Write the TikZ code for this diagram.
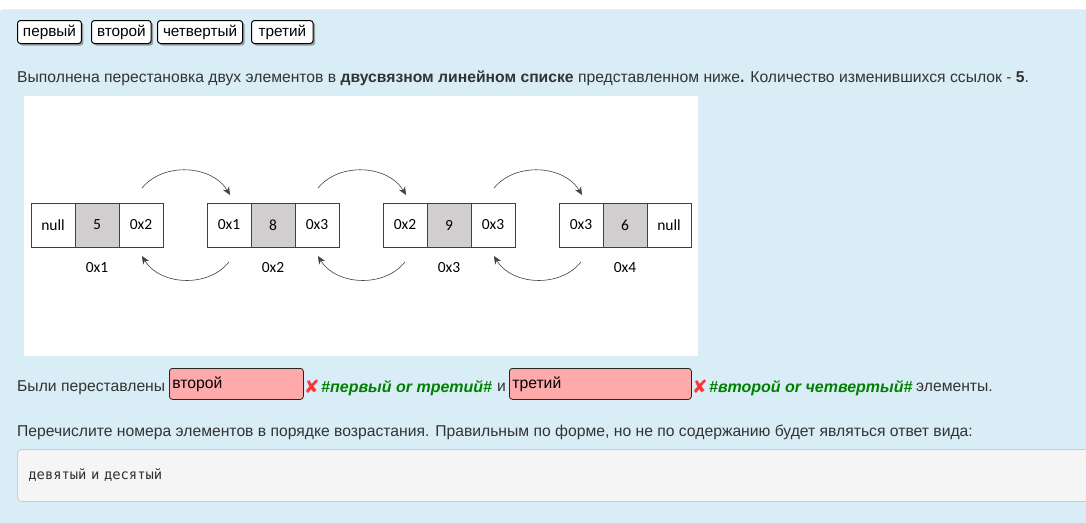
\documentclass[tikz,border=0pt]{standalone}
\usepackage{fontspec}
\setmainfont{Liberation Sans}
\setmonofont{DejaVu Sans Mono}
\newfontfamily\calibri{Carlito}
\newfontfamily\dejavu{DejaVu Sans}
\usetikzlibrary{positioning,shadows,arrows.meta}
\definecolor{panel}{HTML}{D9EDF7}
\definecolor{panelline}{HTML}{BCE8F1}
\definecolor{txt}{HTML}{333333}
\definecolor{cellgray}{HTML}{D0CECE}
\definecolor{pinkbox}{HTML}{FFAAAA}
\definecolor{okgreen}{HTML}{008000}
\definecolor{wrong}{HTML}{FF3333}
\definecolor{codebg}{HTML}{F5F5F5}
\definecolor{arrowgray}{HTML}{404040}

\begin{document}
\begin{tikzpicture}[x=1pt,y=-1pt,
    every node/.style={font=\fontsize{15.7}{18}\selectfont, text=txt},
    line/.style={anchor=base west, inner sep=0pt},
    chip/.style={anchor=north west, draw=black, line width=1pt, fill=white, rounded corners=3pt,
        inner xsep=5.5pt, minimum height=23pt, text=black, font=\fontsize{15.3}{17}\selectfont,
        drop shadow={shadow xshift=2pt, shadow yshift=-2pt, opacity=0.75}},
    cell/.style={draw=black!75, fill=white, minimum width=44pt, minimum height=44pt,
        outer sep=0pt, inner sep=0pt, text=black, font=\calibri\fontsize{15.5}{17}\selectfont},
    val/.style={cell, fill=cellgray},
    addr/.style={inner sep=1pt, text=black, font=\calibri\fontsize{15.5}{17}\selectfont},
    link/.style={-{Stealth[length=8pt,width=7pt]}, draw=arrowgray, line width=0.6pt},
    answer/.style={anchor=north west, draw=black!85, fill=pinkbox, rounded corners=3pt,
        line width=0.8pt, align=left, inner xsep=3pt, minimum height=31pt, text=black},
    cross/.style={line, text=wrong, font=\dejavu\fontsize{18.5}{18}\selectfont},
    hint/.style={line, text=okgreen, font=\fontsize{16}{18}\selectfont\bfseries\itshape}]
    \useasboundingbox (0,0) rectangle (1086,522);

    % page
    \fill[white] (0,0) rectangle (1086,522);
    \filldraw[fill=panel, draw=panelline, rounded corners=4pt] (0,9.5) rectangle (1095,535);
    \fill[white] (24,96) rectangle (698,356);

    % word chips
    \node[chip] (chip1) at (17,20) {первый};
    \node[chip] (chip2) at (91,20) {второй};
    \node[chip] (chip3) at (157,20) {четвертый};
    \node[chip, inner xsep=7pt] (chip4) at (251,20) {третий};

    \node[line] (task) at (17,82) {Выполнена перестановка двух элементов в \textbf{двусвязном линейном списке} представленном ниже\textbf{.} Количество изменившихся ссылок - \textbf{5}.};

    % list nodes
    \node[cell] (a1) at (53,225) {null};
    \node[val, right=0pt of a1] (a2) {5};
    \node[cell, right=0pt of a2] (a3) {0x2};
    \node[cell, right=44pt of a3] (b1) {0x1};
    \node[val, right=0pt of b1] (b2) {8};
    \node[cell, right=0pt of b2] (b3) {0x3};
    \node[cell, right=44pt of b3] (c1) {0x2};
    \node[val, right=0pt of c1] (c2) {9};
    \node[cell, right=0pt of c2] (c3) {0x3};
    \node[cell, right=44pt of c3] (d1) {0x3};
    \node[val, right=0pt of d1] (d2) {6};
    \node[cell, right=0pt of d2] (d3) {null};

    \node[addr, below=14pt of a2] (la) {0x1};
    \node[addr, below=14pt of b2] (lb) {0x2};
    \node[addr, below=14pt of c2] (lc) {0x3};
    \node[addr, below=14pt of d2] (ld) {0x4};

    % links
    \foreach \p/\q in {a/b, b/c, c/d} {
        \draw[link] ([xshift=1pt,yshift=15pt]\p3.north) to[bend left=55] ([xshift=1pt,yshift=8pt]\q1.north);
        \draw[link] ([yshift=-15pt]\q1.south) to[bend left=55] ([xshift=1pt,yshift=-9pt]\p3.south);
    }

    % answer line
    \node[line] (swap) at (17,391) {Были переставлены};
    \node[answer, text width=128pt] (ans1) at (169,368) {второй};
    \node[cross] (x1) at (304,393) {✘};
    \node[hint] (h1) at (321,392) {\#первый or третий\#};
    \node[line] (conj) at (497,391) {и};
    \node[answer, text width=176pt] (ans2) at (509,368) {третий};
    \node[cross] (x2) at (692,393) {✘};
    \node[hint] (h2) at (709,392) {\#второй or четвертый\#};
    \node[line] (tail) at (916,391) {элементы.};

    \node[line] (ask) at (17,436) {Перечислите номера элементов в порядке возрастания. Правильным по форме, но не по содержанию будет являться ответ вида:};

    \node[anchor=north west, draw=black!20, fill=codebg, rounded corners=4pt, line width=0.8pt,
        minimum height=52pt, text width=1070pt, inner xsep=11pt, align=left,
        font=\ttfamily\fontsize{13.8}{15}\selectfont] (code) at (17,449) {девятый и десятый};
\end{tikzpicture}
\end{document}
